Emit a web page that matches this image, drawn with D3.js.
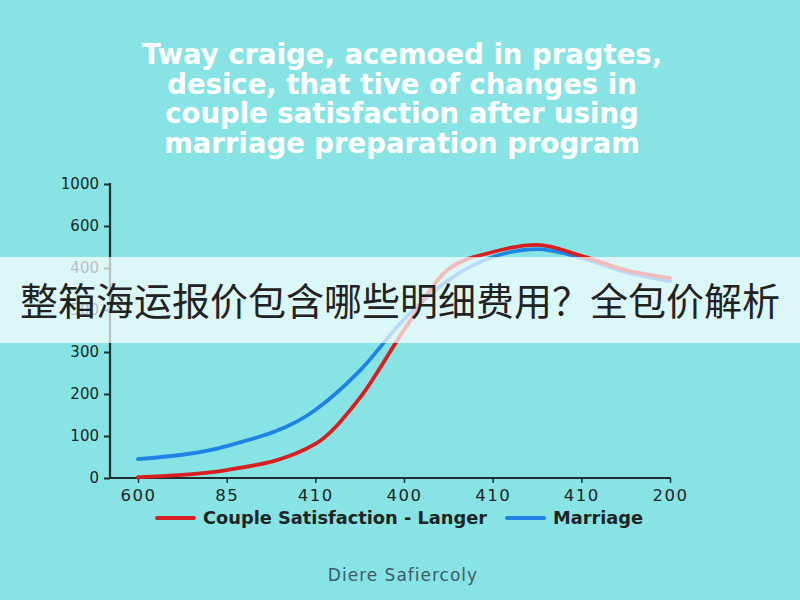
<!DOCTYPE html>
<html>
<head>
<meta charset="utf-8">
<script src="https://cdn.jsdelivr.net/npm/d3@7"></script>
<style>
html,body{margin:0;padding:0;background:#88e4e4;}
svg{display:block;}
</style>
</head>
<body>
<svg id="chart" width="800" height="600"></svg>
<script>
const titleLines = [
  "Tway craige, acemoed in pragtes,",
  "desice, that tive of changes in",
  "couple satisfaction after using",
  "marriage preparation program"
];
const xLabels = ["600", "85", "410", "400", "410", "410", "200"];
const yTickValues = [0, 100, 200, 300, 400, 500, 600, 700];
const yLabels = ["0", "100", "200", "300", "500", "400", "600", "1000"];
const seriesNames = ["Couple Satisfaction - Langer", "Marriage"];
const xPos = [0, 1, 2, 2.5, 3, 3.5, 4, 4.5, 5, 5.5, 6];
const redValues = [2, 19, 81, 190, 352, 497, 538, 555, 529, 495, 476];
const blueValues = [45, 76, 162, 255, 378, 471, 526, 545, 524, 490, 469];
const bannerText = "整箱海运报价包含哪些明细费用？全包价解析";
const footerText = "Diere Safiercoly";

const svg = d3.select("#chart");
const colors = ["#d81e1e", "#1d84e6"];
const font = "'DejaVu Sans', 'Open Sans', sans-serif";

svg.append("rect").attr("width", 800).attr("height", 600).attr("fill", "#88e4e4");

// title
svg.append("g").selectAll("text").data(titleLines).join("text")
  .attr("x", 402).attr("y", (d, i) => 64 + i * 29.5)
  .attr("text-anchor", "middle")
  .attr("font-family", font)
  .attr("font-weight", "bold").attr("font-size", 27.5)
  .attr("fill", "#ffffff")
  .text(d => d);

const x = d3.scaleLinear().domain([0, 6]).range([138, 670]);
const y = d3.scaleLinear().domain([0, 700]).range([478, 184]);

// y axis
const yAxis = svg.append("g").attr("transform", "translate(110,0)")
  .call(d3.axisLeft(y).tickValues(yTickValues).tickFormat((d, i) => yLabels[i]).tickSize(6).tickPadding(5));
yAxis.select(".domain").remove();
yAxis.selectAll(".tick line").attr("stroke", "#1e2d2d").attr("stroke-width", 2);
yAxis.selectAll("text").attr("font-family", font)
  .attr("font-size", 15).attr("fill", "#1c2424");

// x axis
const xAxis = svg.append("g").attr("transform", "translate(0,478)")
  .call(d3.axisBottom(x).tickValues(d3.range(7)).tickFormat((d, i) => xLabels[i]).tickSize(5).tickPadding(6));
xAxis.select(".domain").remove();
xAxis.selectAll(".tick line").attr("stroke", "#1e2d2d").attr("stroke-width", 1.5);
xAxis.selectAll("text").attr("font-family", font)
  .attr("font-size", 16.5).attr("letter-spacing", 1.5).attr("fill", "#1c2424");

svg.append("line").attr("x1", 110).attr("x2", 110).attr("y1", 183).attr("y2", 479)
  .attr("stroke", "#1e2d2d").attr("stroke-width", 2.2);
svg.append("line").attr("x1", 109).attr("x2", 671).attr("y1", 478).attr("y2", 478)
  .attr("stroke", "#1e2d2d").attr("stroke-width", 2.2);

// lines
const line = d3.line().x(d => x(d[0])).y(d => y(d[1])).curve(d3.curveMonotoneX);
const series = [redValues, blueValues];
[1, 0].forEach(k => {
  svg.append("path")
    .datum(xPos.map((p, i) => [p, series[k][i]]))
    .attr("d", line)
    .attr("fill", "none")
    .attr("stroke", colors[k])
    .attr("stroke-width", 3.8)
    .attr("stroke-linecap", "round")
    .attr("stroke-linejoin", "round");
});

// legend
const legend = svg.append("g").attr("font-family", font);
const legX = [157, 507];
seriesNames.forEach((n, i) => {
  legend.append("line").attr("x1", legX[i]).attr("x2", legX[i] + 37).attr("y1", 518).attr("y2", 518)
    .attr("stroke", colors[i]).attr("stroke-width", 4).attr("stroke-linecap", "round");
  legend.append("text").attr("x", legX[i] + 46).attr("y", 524)
    .attr("font-size", 17.8).attr("font-weight", "bold").attr("fill", "#1c2424").text(n);
});

// banner overlay
svg.append("rect").attr("x", 0).attr("y", 257).attr("width", 800).attr("height", 86)
  .attr("fill", "#ffffff").attr("fill-opacity", 0.7);
svg.append("text").attr("x", 400).attr("y", 315)
  .attr("text-anchor", "middle")
  .attr("font-family", "'Noto Sans CJK SC', sans-serif")
  .attr("font-size", 38).attr("fill", "#222222")
  .text(bannerText);

// footer
svg.append("text").attr("x", 403).attr("y", 581).attr("text-anchor", "middle")
  .attr("font-family", font)
  .attr("font-size", 17).attr("letter-spacing", 1).attr("fill", "#3d5b66").text(footerText);
</script>
</body>
</html>
